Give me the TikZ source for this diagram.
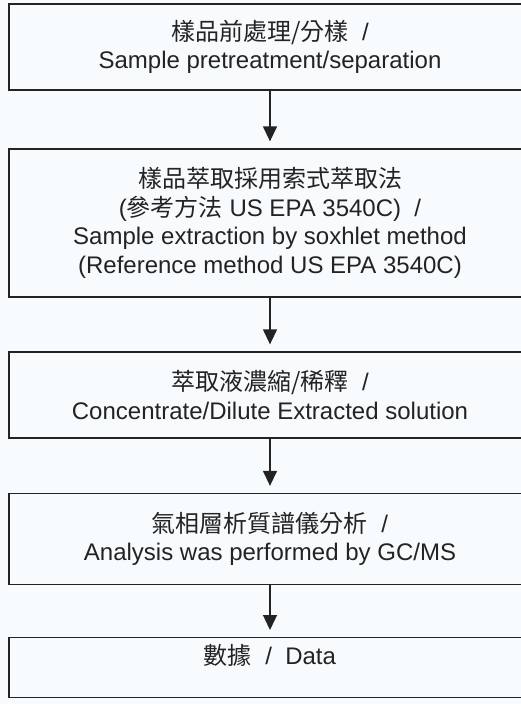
\documentclass[tikz,border=0pt]{standalone}
\usepackage{fontspec}
\setmainfont{Liberation Sans}
\newfontfamily\cjk{Noto Sans CJK TC}
\usetikzlibrary{arrows.meta}
\definecolor{bgc}{RGB}{248,251,253}
\definecolor{inkc}{RGB}{35,35,35}
\begin{document}
\begin{tikzpicture}[x=1pt,y=-1pt,
  box/.style={draw=inkc,line width=1.3pt,rectangle,minimum width=522pt,inner sep=0pt,
    align=center,text=inkc,font=\fontsize{24}{28.5}\selectfont},
  lbl/.style={align=center,text=inkc,inner sep=0pt,font=\fontsize{24}{28.5}\selectfont},
  arr/.style={draw=inkc,line width=1.3pt,-{Triangle[width=14pt,length=15pt]},shorten >=7pt}]
\useasboundingbox (0,0) rectangle (521,704);
\clip (0,0) rectangle (521,704);
\fill[bgc] (0,0) rectangle (521,704);
\node[box,minimum height=86pt] (b1) at (270,47)
  {{\cjk 樣品前處理/分樣}\ \ /\\Sample pretreatment/separation};
\node[box,minimum height=148pt] (b2) at (270,223)
  {{\cjk 樣品萃取採用索式萃取法}\\({\cjk 參考方法} US EPA 3540C)\ \ /\\Sample extraction by soxhlet method\\(Reference method US EPA 3540C)};
\node[box,minimum height=86pt] (b3) at (270,395)
  {{\cjk 萃取液濃縮/稀釋}\ \ /\\Concentrate/Dilute Extracted solution};
\node[box,minimum height=91pt] (b4) at (270,539)
  {{\cjk 氣相層析質譜儀分析}\ \ /\\Analysis was performed by GC/MS};
\node[box,minimum height=60pt,anchor=north] (b5) at (270,637) {};
\node[lbl] (t5) at (270,655) {{\cjk 數據}\ \ /\ \ Data};
\draw[arr] (b1.south) -- (b2.north);
\draw[arr] (b2.south) -- (b3.north);
\draw[arr] (b3.south) -- (b4.north);
\draw[arr] (b4.south) -- (b5.north);
\end{tikzpicture}
\end{document}
